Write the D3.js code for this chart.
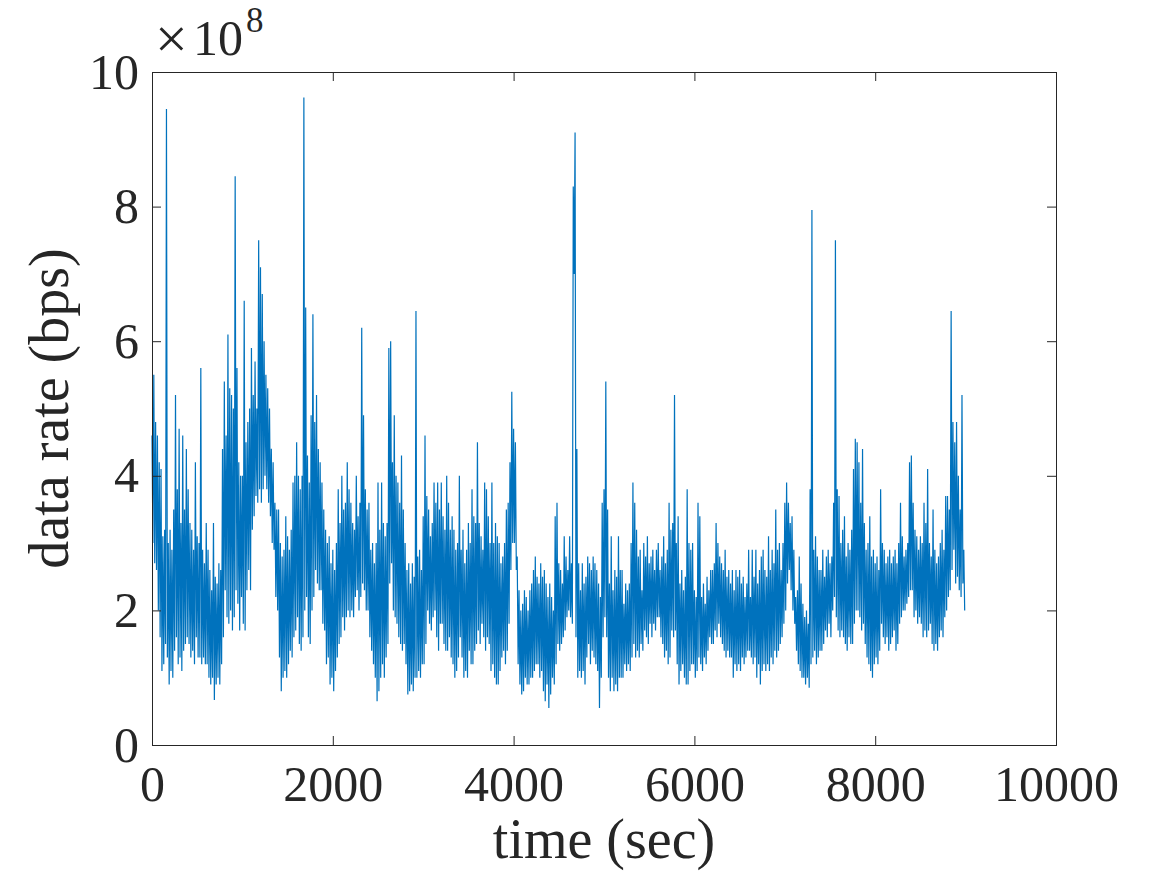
<!DOCTYPE html>
<html>
<head>
<meta charset="utf-8">
<script src="https://cdn.jsdelivr.net/npm/d3@7/dist/d3.min.js"></script>
<style>
  html, body { margin: 0; padding: 0; background: #ffffff; }
  svg { display: block; }
  text { font-family: "Liberation Serif", "Times New Roman", serif; fill: #262626; }
</style>
</head>
<body>
<svg id="chart" width="1167" height="875"></svg>
<script>
// ---- data (data rate in units of 1e8 bps) ----
// Each 20 s slot holds a local peak (at the slot start) and a local trough (10 s later).
const slotSeconds = 20;
const peakValues = [
  4.6, 5.5, 4.8, 4.6, 4.2, 4.1, 3.1, 3.2, 9.45, 3.0,
  3.2, 2.9, 3.5, 5.2, 3.8, 4.7, 3.3, 4.6, 3.5, 4.4,
  3.8, 3.3, 3.2, 2.9, 4.2, 3.1, 3.0, 5.6, 2.9, 2.7,
  3.3, 2.9, 2.6, 2.3, 3.3, 2.5, 2.4, 2.7, 2.6, 4.4,
  5.4, 4.6, 6.1, 5.3, 5.2, 5.0, 8.45, 5.6, 4.2, 4.0,
  4.0, 6.6, 4.5, 4.8, 5.0, 5.9, 5.2, 5.7, 5.0, 7.5,
  7.1, 6.7, 6.0, 5.5, 5.3, 5.0, 4.4, 4.2, 3.6, 3.5,
  3.5, 3.0, 2.8, 2.9, 3.4, 3.1, 2.9, 3.2, 3.9, 4.0,
  4.5, 4.0, 3.8, 4.0, 9.62, 6.5, 4.3, 3.9, 4.9, 6.4,
  4.8, 5.2, 4.4, 4.2, 3.9, 3.5, 3.2, 3.0, 3.1, 2.7,
  2.9, 2.6, 3.0, 3.8, 3.3, 4.0, 3.5, 3.6, 4.2, 3.8,
  3.6, 3.3, 3.2, 4.0, 3.4, 3.6, 6.2, 4.9, 3.8, 3.5,
  3.6, 2.9, 3.0, 2.7, 3.0, 3.9, 3.2, 3.9, 3.3, 3.1,
  3.3, 5.9, 6.0, 4.2, 4.9, 4.0, 3.9, 3.6, 4.3, 3.5,
  3.0, 2.6, 2.7, 2.4, 2.7, 2.5, 6.45, 2.8, 2.9, 2.6,
  3.4, 4.6, 3.7, 3.5, 3.1, 3.3, 3.9, 3.6, 3.9, 3.5,
  3.9, 3.4, 3.2, 4.0, 3.6, 3.2, 3.4, 3.2, 2.9, 3.0,
  4.0, 2.9, 3.2, 2.7, 2.9, 3.3, 3.0, 3.8, 3.4, 3.3,
  4.5, 3.3, 3.1, 2.9, 3.9, 3.8, 3.4, 3.0, 3.9, 3.0,
  3.3, 3.1, 3.0, 2.7, 2.8, 3.0, 3.5, 3.6, 4.2, 5.25,
  4.7, 4.5, 2.8, 2.3, 2.0, 2.1, 2.3, 2.2, 2.0, 2.3,
  2.4, 2.6, 2.8, 2.5, 2.4, 2.7, 2.5, 2.6, 2.4, 2.2,
  2.4, 2.2, 2.0, 3.4, 3.6, 2.7, 2.6, 2.4, 3.1, 2.8,
  2.6, 3.1, 2.7, 8.3, 9.1, 4.4, 2.7, 2.3, 2.7, 2.4,
  2.5, 2.8, 2.7, 2.6, 2.8, 2.7, 2.6, 2.4, 2.2, 3.6,
  3.8, 5.4, 3.5, 2.4, 3.1, 2.3, 2.6, 2.5, 3.1, 2.6,
  2.6, 2.1, 2.4, 2.3, 2.4, 3.0, 3.9, 3.6, 3.2, 2.8,
  2.9, 2.3, 3.0, 2.8, 3.1, 2.7, 2.8, 2.9, 2.6, 2.9,
  3.0, 2.6, 2.8, 3.1, 2.7, 2.9, 3.6, 3.2, 3.3, 5.2,
  3.0, 3.4, 2.4, 2.6, 2.3, 2.5, 3.8, 3.0, 2.9, 3.0,
  2.3, 2.2, 3.6, 3.4, 2.2, 2.4, 2.1, 2.5, 2.3, 2.6,
  2.6, 2.7, 3.3, 3.0, 2.8, 2.7, 2.6, 2.9, 2.5, 2.6,
  2.4, 2.6, 2.3, 2.6, 2.5, 2.6, 2.4, 2.5, 2.2, 2.4,
  2.9, 2.2, 2.9, 2.5, 2.9, 2.4, 2.6, 2.8, 2.9, 2.6,
  2.5, 3.1, 2.6, 2.9, 2.7, 3.5, 2.9, 3.0, 2.6, 3.0,
  3.6, 3.9, 3.6, 3.3, 3.4, 2.9, 2.2, 2.3, 2.8, 2.4,
  2.1, 1.9, 2.0, 1.8, 3.8, 7.95, 2.9, 3.1, 2.8, 2.6,
  2.6, 2.9, 2.5, 2.8, 2.9, 2.7, 2.8, 3.6, 7.5, 3.8,
  3.7, 3.0, 3.2, 3.4, 2.8, 3.0, 2.9, 3.2, 4.1, 4.55,
  4.5, 4.2, 3.6, 4.4, 3.3, 2.9, 3.0, 3.4, 2.8, 2.9,
  2.7, 2.8, 2.6, 3.8, 3.0, 2.9, 2.7, 2.8, 2.9, 2.7,
  2.8, 2.9, 2.7, 3.0, 3.6, 3.1, 2.8, 2.9, 3.0, 4.2,
  4.3, 3.6, 3.2, 3.1, 2.9, 3.1, 3.0, 3.6, 3.3, 4.1,
  3.0, 2.8, 3.5, 2.9, 2.7, 2.8, 3.0, 3.2, 2.9, 3.7,
  3.7, 3.5, 6.45, 4.8, 4.5, 4.8, 4.0, 3.5, 5.2, 2.9
];
const troughValues = [
  3.0, 2.7, 2.6, 2.0, 1.6, 1.1, 1.2, 1.5, 1.3, 0.9,
  1.1, 1.0, 1.4, 1.6, 1.2, 1.3, 1.1, 1.4, 1.5, 1.6,
  1.5, 1.3, 1.4, 1.2, 1.6, 1.3, 1.3, 1.2, 1.3, 1.2,
  1.2, 1.0, 0.9, 1.0, 0.67, 0.9, 1.0, 0.9, 1.2, 1.6,
  2.3, 1.9, 1.8, 2.0, 1.7, 1.9, 2.3, 2.1, 1.7, 2.2,
  1.8, 1.7, 2.3, 2.6, 2.3, 3.2, 3.4, 3.7, 3.6, 3.8,
  3.6, 3.8, 4.0, 3.8, 3.6, 3.4, 3.0, 2.9, 2.2, 2.0,
  1.3, 0.8, 1.0, 1.1, 1.0, 1.2, 1.4, 1.3, 1.6, 1.7,
  1.9, 1.5, 1.4, 1.6, 2.0, 2.2, 1.6, 1.5, 2.0, 2.2,
  2.6, 2.4, 2.3, 2.3, 1.8, 1.7, 1.2, 1.3, 0.9, 1.0,
  0.8, 1.1, 1.3, 1.5, 1.6, 1.9, 1.7, 1.9, 2.0, 1.9,
  2.0, 1.9, 2.2, 2.3, 2.0, 2.2, 2.4, 2.3, 2.0, 2.0,
  1.6, 1.4, 1.2, 1.0, 0.65, 0.8, 1.0, 1.2, 1.0, 1.3,
  1.5, 2.4, 2.7, 2.0, 1.9, 1.8, 1.6, 1.5, 1.4, 1.5,
  1.2, 0.75, 0.8, 0.9, 0.8, 1.0, 1.0, 1.1, 1.0, 1.2,
  1.2, 1.5, 2.0, 1.8, 1.7, 1.9, 2.0, 1.6, 1.4, 1.8,
  1.8, 1.5, 1.4, 1.4, 1.6, 1.3, 1.2, 1.0, 1.1, 1.3,
  1.6, 1.3, 1.0, 1.1, 1.0, 1.4, 1.2, 1.2, 1.4, 1.5,
  1.7, 1.5, 1.8, 1.6, 1.4, 1.6, 1.5, 1.1, 1.2, 1.0,
  0.9, 0.9, 1.1, 1.3, 1.4, 1.2, 1.4, 1.8, 2.6, 3.0,
  3.0, 2.6, 1.2, 0.9, 0.75, 0.8, 1.0, 0.9, 0.9, 1.0,
  1.0, 1.1, 1.2, 1.2, 1.0, 1.1, 0.8, 0.65, 0.9, 0.55,
  0.75, 1.0, 0.9, 1.2, 1.5, 1.4, 1.5, 1.6, 1.7, 1.9,
  2.0, 1.9, 1.8, 7.0, 1.6, 1.0, 1.1, 1.0, 1.1, 0.9,
  1.3, 1.5, 1.2, 1.4, 1.3, 1.2, 1.1, 0.55, 1.0, 1.6,
  1.9, 1.6, 1.0, 0.8, 1.0, 0.8, 0.9, 0.8, 1.0, 1.0,
  1.0, 1.2, 1.1, 1.2, 1.1, 1.3, 1.5, 1.3, 1.4, 1.3,
  1.5, 1.4, 1.7, 1.6, 1.5, 1.8, 1.6, 1.8, 1.7, 1.9,
  1.9, 1.6, 1.5, 1.3, 1.4, 1.2, 1.3, 1.7, 1.6, 1.7,
  1.2, 0.9, 1.1, 1.2, 1.0, 0.9, 0.9, 1.1, 1.2, 1.2,
  1.0, 1.1, 1.3, 1.2, 1.1, 1.3, 1.2, 1.4, 1.6, 1.5,
  1.5, 1.7, 1.6, 1.8, 1.6, 1.5, 1.4, 1.3, 1.4, 1.3,
  1.3, 1.0, 1.2, 1.1, 1.2, 1.1, 1.3, 1.2, 1.3, 1.4,
  1.4, 1.3, 1.2, 1.3, 1.0, 1.2, 0.9, 1.1, 1.2, 1.1,
  1.2, 1.1, 1.3, 1.2, 1.4, 1.3, 1.4, 1.5, 1.6, 1.8,
  2.0, 2.4, 2.6, 2.3, 2.0, 1.8, 1.4, 1.2, 1.1, 1.0,
  1.0, 0.9, 1.0, 0.85, 1.2, 1.3, 1.4, 1.2, 1.3, 1.4,
  1.4, 1.5, 1.7, 1.6, 1.8, 1.6, 2.0, 2.2, 1.9, 1.7,
  1.6, 1.7, 1.6, 1.5, 1.4, 1.6, 1.5, 1.5, 1.8, 2.0,
  2.0, 1.9, 1.7, 1.8, 1.5, 1.3, 1.2, 1.1, 1.0, 1.2,
  1.3, 1.2, 1.4, 1.8, 1.6, 1.5, 1.6, 1.4, 1.5, 1.6,
  1.7, 1.4, 1.5, 1.8, 1.9, 2.0, 2.0, 2.1, 2.2, 2.3,
  2.3, 1.9, 2.0, 1.8, 1.9, 1.8, 1.6, 1.7, 1.6, 1.7,
  1.8, 1.5, 1.4, 1.5, 1.4, 1.6, 1.7, 1.6, 1.9, 2.0,
  2.2, 2.3, 2.6, 2.9, 2.4, 2.5, 2.3, 2.2, 2.4, 2.0
];
const xTickValues = [0, 2000, 4000, 6000, 8000, 10000];
const yTickValues = [0, 2, 4, 6, 8, 10];
const xLabel = "time (sec)";
const yLabel = "data rate (bps)";
const exponentTimes = "\u00D7";
const exponentBase = "10";
const exponentPower = "8";

// ---- layout ----
const svg = d3.select("#chart");
const axLeft = 152, axRight = 1056, axTop = 72, axBottom = 745;
const tickLen = 9;
const tickFont = 50, labelFont = 56;
const lineColor = "#0072BD", axisColor = "#262626";

const x = d3.scaleLinear().domain([0, 10000]).range([axLeft, axRight]);
const y = d3.scaleLinear().domain([0, 10]).range([axBottom, axTop]);

const series = [];
peakValues.forEach((p, i) => {
  series.push({ t: i * slotSeconds, v: p });
  series.push({ t: i * slotSeconds + slotSeconds / 2, v: troughValues[i] });
});

// data line
svg.append("path")
  .datum(series)
  .attr("fill", "none")
  .attr("stroke", lineColor)
  .attr("stroke-width", 1.2)
  .attr("stroke-linejoin", "miter")
  .attr("d", d3.line().x(d => x(d.t)).y(d => y(d.v)));

function styleAxis(g) {
  g.select(".domain").remove();
  g.selectAll(".tick line").attr("stroke", axisColor).attr("stroke-width", 1);
  g.selectAll(".tick text")
    .attr("font-family", "Liberation Serif, Times New Roman, serif")
    .attr("font-size", tickFont)
    .attr("fill", axisColor);
}

// bottom axis
svg.append("g")
  .attr("transform", `translate(0,${axBottom})`)
  .call(d3.axisBottom(x).tickValues(xTickValues).tickFormat(d3.format("d"))
    .tickSizeInner(-tickLen).tickSizeOuter(0).tickPadding(20))
  .call(styleAxis);

// top mirror ticks
svg.append("g")
  .attr("transform", `translate(0,${axTop})`)
  .call(d3.axisTop(x).tickValues(xTickValues).tickFormat("")
    .tickSizeInner(-tickLen).tickSizeOuter(0))
  .call(styleAxis);

// left axis
svg.append("g")
  .attr("transform", `translate(${axLeft},0)`)
  .call(d3.axisLeft(y).tickValues(yTickValues).tickFormat(d3.format("d"))
    .tickSizeInner(-tickLen).tickSizeOuter(0).tickPadding(13))
  .call(styleAxis);

// right mirror ticks
svg.append("g")
  .attr("transform", `translate(${axRight},0)`)
  .call(d3.axisRight(y).tickValues(yTickValues).tickFormat("")
    .tickSizeInner(-tickLen).tickSizeOuter(0))
  .call(styleAxis);

// box
svg.append("rect")
  .attr("x", axLeft + 0.5).attr("y", axTop + 0.5)
  .attr("width", axRight - axLeft).attr("height", axBottom - axTop)
  .attr("fill", "none").attr("stroke", axisColor).attr("stroke-width", 1);

// exponent label (×10^8)
svg.append("text").attr("x", 155).attr("y", 58)
  .attr("font-size", 58).text(exponentTimes);
svg.append("text").attr("x", 193).attr("y", 55)
  .attr("font-size", tickFont).text(exponentBase);
svg.append("text").attr("x", 246).attr("y", 32)
  .attr("font-size", 35).text(exponentPower);

// axis labels
svg.append("text")
  .attr("x", (axLeft + axRight) / 2).attr("y", 858)
  .attr("text-anchor", "middle").attr("font-size", labelFont)
  .text(xLabel);

svg.append("text")
  .attr("transform", `translate(68,${(axTop + axBottom) / 2}) rotate(-90)`)
  .attr("text-anchor", "middle").attr("font-size", labelFont)
  .text(yLabel);
</script>
</body>
</html>
